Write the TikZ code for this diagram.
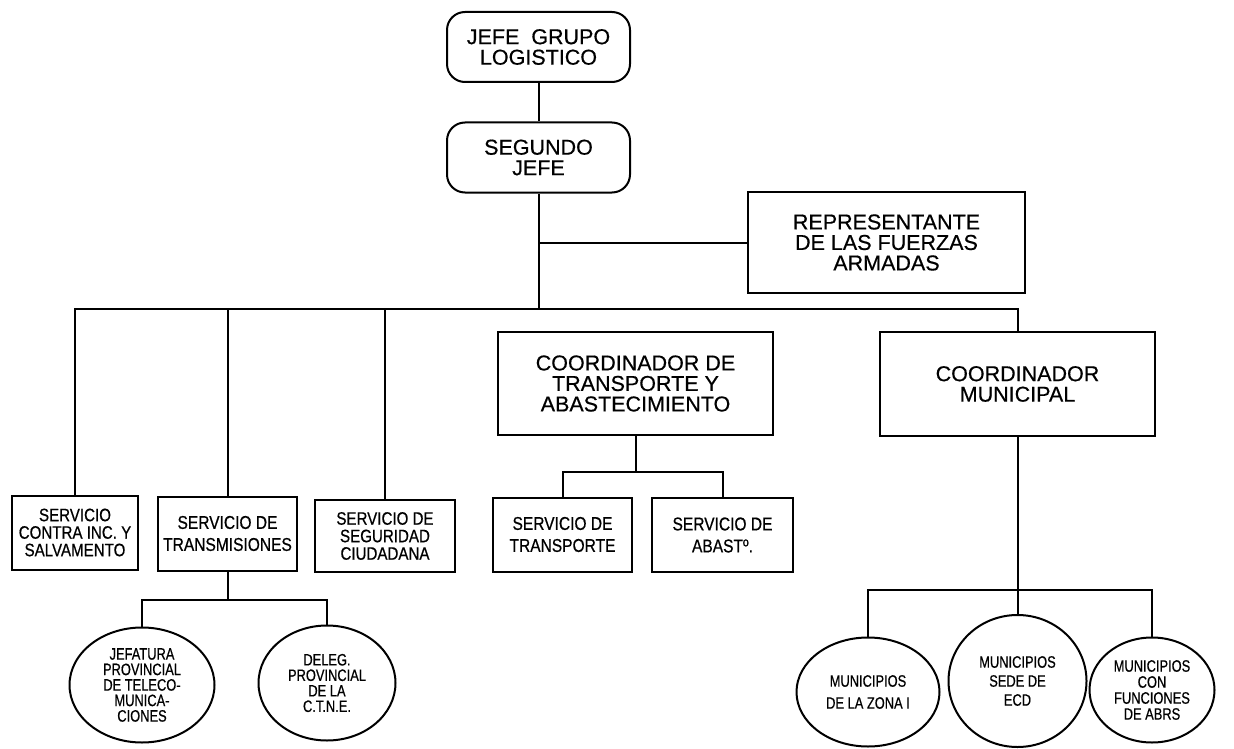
\documentclass[tikz,border=0pt]{standalone}
\usepackage{fontspec}
\setmainfont{Liberation Sans}[FakeBold=0.5]
\newfontfamily\narrowfont[FakeStretch=0.84,FakeBold=0.6]{Liberation Sans}
\newfontfamily\ovalfont[FakeStretch=0.78,FakeBold=0.6]{Liberation Sans}
\usetikzlibrary{shapes.geometric,calc,positioning}

\begin{document}
\begin{tikzpicture}[x=1pt, y=-1pt, line width=2pt,
  bigbox/.style={draw, align=center, inner sep=0pt, font=\fontsize{21.5}{20.5}\selectfont},
  rbox/.style={bigbox, rounded corners=18pt, minimum width=183pt, minimum height=70pt},
  sbox/.style={draw, align=center, inner sep=0pt, minimum height=74pt, font=\narrowfont\fontsize{18.5}{19}\selectfont},
  oval/.style={draw, ellipse, align=center, inner sep=0pt, font=\ovalfont\fontsize{16.5}{15.5}\selectfont}]
\useasboundingbox (0,0) rectangle (1234,749);
% jefatura
\node[rbox] (jefe) at (538.5,47) {JEFE \ GRUPO\\LOGISTICO};
\node[rbox] (segundo) at (538.5,157.5) {SEGUNDO\\JEFE};
\node[bigbox, minimum width=277pt, minimum height=101pt] (repr) at (886.5,242.5) {REPRESENTANTE\\DE LAS FUERZAS\\ARMADAS};
% coordinadores
\node[bigbox, minimum width=275pt, minimum height=103pt] (ctrans) at (635.5,383.5) {COORDINADOR DE\\TRANSPORTE Y\\ABASTECIMIENTO};
\node[bigbox, minimum width=275pt, minimum height=104pt] (cmun) at (1017.5,384) {COORDINADOR\\MUNICIPAL};
% servicios
\node[sbox, minimum width=126pt, font=\narrowfont\fontsize{18}{17.5}\selectfont] (sci) at (75,532.5) {SERVICIO\\CONTRA INC. Y\\SALVAMENTO};
\node[sbox, minimum width=139pt, font=\narrowfont\fontsize{18.5}{22}\selectfont] (stx) at (227.5,533.5) {SERVICIO DE\\TRANSMISIONES};
\node[sbox, minimum width=140pt, minimum height=72pt, font=\narrowfont\fontsize{18}{17.5}\selectfont] (sseg) at (385,536) {SERVICIO DE\\SEGURIDAD\\CIUDADANA};
\node[sbox, minimum width=139pt, font=\narrowfont\fontsize{18.5}{22}\selectfont] (strn) at (562.5,534.5) {SERVICIO DE\\TRANSPORTE};
\node[sbox, minimum width=141pt, font=\narrowfont\fontsize{18.5}{22}\selectfont] (sabs) at (722.5,535) {SERVICIO DE\\ABASTº.};
% organismos
\node[oval, minimum width=145pt, minimum height=115pt] (cjef) at (142,685) {JEFATURA\\PROVINCIAL\\DE TELECO-\\MUNICA-\\CIONES};
\node[oval, minimum width=137pt, minimum height=115pt] (cdel) at (327,683) {DELEG.\\PROVINCIAL\\DE LA\\C.T.N.E.};
\node[oval, minimum width=143pt, minimum height=109pt, font=\ovalfont\fontsize{16.5}{22}\selectfont] (cm1) at (868,692) {MUNICIPIOS\\DE LA ZONA I};
\node[oval, minimum width=138pt, minimum height=132pt, font=\ovalfont\fontsize{16.5}{19}\selectfont] (cm2) at (1017.5,681) {MUNICIPIOS\\SEDE DE\\ECD};
\node[oval, minimum width=125pt, minimum height=105pt, font=\ovalfont\fontsize{16.5}{16}\selectfont] (cm3) at (1152,690) {MUNICIPIOS\\CON\\FUNCIONES\\DE ABRS};
% uniones
\coordinate (bus) at (538.5,309);
\coordinate (tj) at (635.5,472);
\coordinate (xj) at (227.5,600);
\coordinate (mj) at (1017.5,590);
\draw (jefe) -- (segundo);
\draw (segundo) -- (bus);
\draw (repr) -- (repr -| bus);
\draw (sci) |- (bus) -| (cmun);
\draw (stx) -- (stx |- bus);
\draw (sseg) -- (sseg |- bus);
\draw (ctrans) -- (tj);
\draw (strn) |- (tj) -| (sabs);
\draw (stx) -- (xj);
\draw (cjef) |- (xj) -| (cdel);
\draw (cmun) -- (mj);
\draw (cm1) |- (mj) -| (cm3);
\draw (mj) -- (cm2);
\end{tikzpicture}
\end{document}
